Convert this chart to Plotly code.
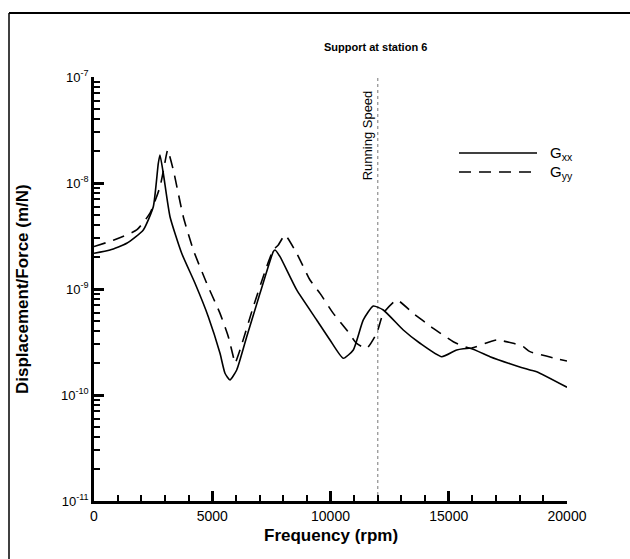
import plotly.graph_objects as go

# Frequency (rpm) and response (m/N)
gxx_rpm = [0, 677, 1383, 2085, 2507, 2719, 2790, 2930, 3214, 3708, 4271, 4833, 5328, 5539, 5750,
           6034, 6457, 7019, 7581, 7653, 7865, 8571, 9416, 9979, 10541, 10964, 11387, 11810,
           12233, 13078, 13784, 14702, 15336, 15899, 16744, 17590, 18436, 18719, 20000]
gxx_log = [-8.663, -8.632, -8.569, -8.443, -8.224, -7.814, -7.736, -7.908, -8.318, -8.663, -8.946,
           -9.261, -9.607, -9.795, -9.858,
           -9.764, -9.450, -9.041, -8.648, -8.632, -8.695, -9.009, -9.292, -9.481, -9.654, -9.575,
           -9.292, -9.160,
           -9.198, -9.387, -9.512, -9.639, -9.575, -9.559, -9.639, -9.705, -9.764, -9.780, -9.927]

gyy_rpm = [0, 816, 1805, 2368, 2791, 3074, 3116, 3353, 3776, 4199, 4765, 5328, 5679, 5890, 5962,
           6173, 6736, 7302, 7581, 7793, 8076, 8571, 9133, 9556, 10118, 10685, 11108, 11531,
           11953, 12233, 12799, 13501, 14347, 15192, 15899, 16744, 17027, 17729, 18152, 18436, 20000]
gyy_log = [-8.600, -8.540, -8.443, -8.285, -8.035, -7.720, -7.689, -7.877, -8.318, -8.632, -8.946,
           -9.230, -9.450, -9.639, -9.701,
           -9.575, -9.167, -8.789, -8.632, -8.585, -8.491, -8.664, -8.915, -9.041, -9.230, -9.387,
           -9.513, -9.560,
           -9.418, -9.230, -9.104, -9.230, -9.371, -9.497, -9.559, -9.497, -9.481, -9.512, -9.544,
           -9.591, -9.680]

gxx = [10 ** v for v in gxx_log]
gyy = [10 ** v for v in gyy_log]

running_speed = 12000
x_major = [0, 5000, 10000, 15000, 20000]
x_major_text = ["0", "5000", "10000", "15000", "20000"]
x_minor = [1000 * i for i in range(1, 20) if i % 5]
y_major = [1e-11, 1e-10, 1e-9, 1e-8, 1e-7]
y_major_text = ["10<sup>-11</sup>", "10<sup>-10</sup>", "10<sup>-9</sup>", "10<sup>-8</sup>", "10<sup>-7</sup>"]
y_minor = [m * 10 ** e for e in range(-11, -7) for m in range(2, 10)]

FONT = "Liberation Sans, Arial, sans-serif"

fig = go.Figure()
fig.add_trace(go.Scatter(x=[running_speed, running_speed], y=[1e-11, 1e-7], mode="lines",
                         line=dict(color="#777777", width=1, dash="dot"), showlegend=False,
                         hoverinfo="skip"))
fig.add_trace(go.Scatter(x=gxx_rpm, y=gxx, mode="lines", name="G<sub>xx</sub>",
                         line=dict(color="black", width=1.6, shape="spline", smoothing=0.5),
                         showlegend=False))
fig.add_trace(go.Scatter(x=gyy_rpm, y=gyy, mode="lines", name="G<sub>yy</sub>",
                         line=dict(color="black", width=1.6, dash="12px,8px", shape="spline",
                                   smoothing=0.5),
                         showlegend=False))

fig.update_layout(
    width=630, height=559,
    margin=dict(l=94, r=63, t=77, b=58),
    paper_bgcolor="white", plot_bgcolor="white",
    font=dict(family=FONT, color="black", size=13),
    xaxis=dict(range=[0, 20000], tickvals=x_major, ticktext=x_major_text,
               ticks="inside", ticklen=10, tickwidth=2.5, tickcolor="black",
               minor=dict(tickvals=x_minor, ticks="inside",
                          ticklen=6, tickwidth=1.5, tickcolor="black"),
               showline=True, linecolor="black", linewidth=2.5, showgrid=False, zeroline=False,
               layer="above traces", tickfont=dict(size=14, family=FONT)),
    yaxis=dict(type="log", range=[-11, -7], tickvals=y_major, ticktext=y_major_text,
               ticks="inside", ticklen=10, tickwidth=2.5, tickcolor="black",
               minor=dict(tickvals=y_minor, ticks="inside", ticklen=6, tickwidth=1.5,
                          tickcolor="black"),
               showline=True, linecolor="black", linewidth=2.5, showgrid=False, zeroline=False,
               layer="above traces", tickfont=dict(size=13, family=FONT)),
)

annotations = [
    dict(text="<b>Support at station 6</b>", x=(375 - 94) / 473, y=(501 - 47) / 424,
         xref="paper", yref="paper", xanchor="center", yanchor="middle",
         showarrow=False, font=dict(size=11, family=FONT)),
    dict(text="<b>Displacement/Force (m/N)</b>", x=(22 - 94) / 473, y=0.5, xref="paper", yref="paper",
         xanchor="center", yanchor="middle",
         textangle=-90, showarrow=False, font=dict(size=17, family=FONT)),
    dict(text="<b>Frequency (rpm)</b>", x=0.5, y=(501 - 535) / 424, xref="paper", yref="paper",
         xanchor="center", yanchor="middle",
         showarrow=False, font=dict(size=17, family=FONT)),
    dict(text="Running Speed", x=running_speed, xref="x", y=(501 - 135) / 424, yref="paper",
         textangle=-90, xanchor="right", yanchor="middle", xshift=-1, showarrow=False,
         font=dict(size=13, family=FONT)),
    dict(text="G<sub>xx</sub>", x=(548 - 94) / 473, y=(501 - 153) / 424, xref="paper", yref="paper",
         xanchor="left", yanchor="middle", showarrow=False, font=dict(size=15, family=FONT)),
    dict(text="G<sub>yy</sub>", x=(548 - 94) / 473, y=(501 - 172) / 424, xref="paper", yref="paper",
         xanchor="left", yanchor="middle", showarrow=False, font=dict(size=15, family=FONT)),
]
fig.update_layout(annotations=annotations)

px_x = lambda p: (p - 94) / 473
px_y = lambda p: (501 - p) / 424
shapes = [
    dict(type="line", xref="paper", yref="paper", x0=px_x(459), x1=px_x(537), y0=px_y(153), y1=px_y(153),
         line=dict(color="black", width=1.6)),
    dict(type="line", xref="paper", yref="paper", x0=px_x(459), x1=px_x(537), y0=px_y(172), y1=px_y(172),
         line=dict(color="black", width=1.6, dash="12px,8px")),
    dict(type="line", xref="paper", yref="paper", x0=px_x(9), x1=px_x(9), y0=px_y(13), y1=px_y(559),
         line=dict(color="black", width=1.5)),
    dict(type="line", xref="paper", yref="paper", x0=px_x(9), x1=px_x(630), y0=px_y(13), y1=px_y(13),
         line=dict(color="black", width=2)),
]
fig.update_layout(shapes=shapes)

fig.write_html("out.html", config={"displayModeBar": False},
               post_script="document.body.style.margin='0';")
